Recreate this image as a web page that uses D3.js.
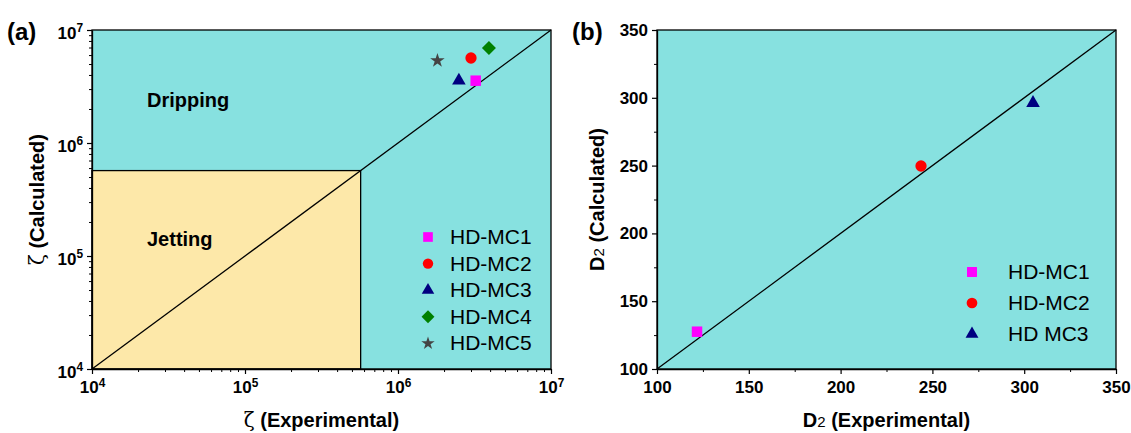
<!DOCTYPE html>
<html>
<head>
<meta charset="utf-8">
<script src="https://cdn.jsdelivr.net/npm/d3@7"></script>
<style>
  body { margin: 0; background: #fff; }
  svg text { font-family: 'Liberation Sans', Arial, sans-serif; }
</style>
</head>
<body>
<div id="graf"></div>
<script>
// panel (a) data
const namesA = ['HD-MC1', 'HD-MC2', 'HD-MC3', 'HD-MC4', 'HD-MC5']
const zetaExp = [3.22e6, 3.0e6, 2.5e6, 3.93e6, 1.81e6]
const zetaCalc = [3.56e6, 5.65e6, 3.56e6, 6.93e6, 5.35e6]
const logTicks = [1e4, 1e5, 1e6, 1e7]
const jetLimit = 5.7e5

// panel (b) data
const namesB = ['HD-MC1', 'HD-MC2', 'HD MC3']
const d2Exp = [121.8, 243.8, 304.8]
const d2Calc = [127.5, 249.7, 296.2]
const linTicks = [100, 150, 200, 250, 300, 350]

const colors = ['#ff00ff', '#ff0000', '#000080', '#008000', '#444444']
const shapes = [d3.symbolSquare, d3.symbolCircle, d3.symbolTriangle, d3.symbolDiamond2, d3.symbolStar]
const sizes = [110, 100, 80, 125, 65]

const bgTeal = '#87e1e0'
const bgJet = '#fde8a9'

const svg = d3.select('#graf').append('svg').attr('width', 1131).attr('height', 433)

const plotTop = 30, plotBottom = 369

// ---------- panel (a)
const xa = d3.scaleLog().domain([1e4, 1e7]).range([92, 551])
const ya = d3.scaleLog().domain([1e4, 1e7]).range([plotBottom, plotTop])

const ga = svg.append('g')
ga.append('rect').attr('x', xa(1e4)).attr('y', ya(1e7))
  .attr('width', xa(1e7) - xa(1e4)).attr('height', ya(1e4) - ya(1e7)).attr('fill', bgTeal)
ga.append('rect').attr('x', xa(1e4)).attr('y', ya(jetLimit))
  .attr('width', xa(jetLimit) - xa(1e4)).attr('height', ya(1e4) - ya(jetLimit))
  .attr('fill', bgJet).attr('stroke', '#000').attr('stroke-width', 1.3)
ga.append('line').attr('x1', xa(1e4)).attr('y1', ya(1e4)).attr('x2', xa(1e7)).attr('y2', ya(1e7))
  .attr('stroke', '#000').attr('stroke-width', 1.3)

const minors = []
logTicks.slice(0, -1).forEach((t) => { for (let k = 2; k < 10; k++) minors.push(t * k) })

function supLabels(sel) {
  sel.selectAll('.tick text').each(function (d) {
    const t = d3.select(this).text('')
    t.append('tspan').text('10')
    t.append('tspan').attr('dy', '-0.55em').attr('font-size', '0.7em').text(Math.round(Math.log10(d)))
  })
}

function styleAxis(sel) {
  sel.select('.domain').attr('stroke-width', 1.3)
  sel.selectAll('.tick line').attr('stroke-width', 1.2)
  sel.selectAll('.tick text').attr('font-size', 17).attr('font-weight', 'bold').attr('fill', '#000')
}

ga.append('g').attr('transform', `translate(0,${plotBottom})`)
  .call(d3.axisBottom(xa).tickValues(minors).tickSize(3).tickFormat(''))
  .call((g) => g.select('.domain').remove())
ga.append('g').attr('transform', `translate(${xa(1e4)},0)`)
  .call(d3.axisLeft(ya).tickValues(minors).tickSize(3).tickFormat(''))
  .call((g) => g.select('.domain').remove())
ga.append('g').attr('transform', `translate(0,${plotBottom})`)
  .call(d3.axisBottom(xa).tickValues(logTicks).tickSize(5).tickPadding(7).tickSizeOuter(0))
  .call(styleAxis).call(supLabels)
ga.append('g').attr('transform', `translate(${xa(1e4)},0)`)
  .call(d3.axisLeft(ya).tickValues(logTicks).tickSize(5).tickPadding(4).tickSizeOuter(0))
  .call(styleAxis).call(supLabels)
  .call((g) => g.selectAll('.tick text').attr('dy', '0.5em'))
ga.append('rect').attr('x', xa(1e4)).attr('y', ya(1e7))
  .attr('width', xa(1e7) - xa(1e4)).attr('height', ya(1e4) - ya(1e7))
  .attr('fill', 'none').attr('stroke', '#000').attr('stroke-width', 1.3)

ga.append('text').attr('x', 147).attr('y', 107).attr('font-size', 20).attr('font-weight', 'bold').text('Dripping')
ga.append('text').attr('x', 147).attr('y', 246).attr('font-size', 20).attr('font-weight', 'bold').text('Jetting')

ga.selectAll('path.pt').data(namesA).join('path').attr('class', 'pt')
  .attr('transform', (d, i) => `translate(${xa(zetaExp[i])},${ya(zetaCalc[i])})`)
  .attr('d', (d, i) => d3.symbol(shapes[i], sizes[i])())
  .attr('fill', (d, i) => colors[i])

const legA = ga.selectAll('g.leg').data(namesA).join('g').attr('class', 'leg')
  .attr('transform', (d, i) => `translate(428,${237 + i * 26.6})`)
legA.append('path').attr('d', (d, i) => d3.symbol(shapes[i], sizes[i] * 0.85)()).attr('fill', (d, i) => colors[i])
legA.append('text').attr('x', 22).attr('y', 7).attr('font-size', 21).text((d) => d)

function zetaLabel(sel, rest) {
  sel.append('tspan').attr('font-family', "'DejaVu Serif', serif").attr('font-weight', 'normal').text('ζ')
  sel.append('tspan').text(rest)
}
ga.append('text').attr('x', xa(Math.sqrt(1e4 * 1e7)))
  .attr('y', 427).attr('text-anchor', 'middle').attr('font-size', 20).attr('font-weight', 'bold')
  .call(zetaLabel, ' (Experimental)')
ga.append('text').attr('transform', `translate(44,${(plotTop + plotBottom) / 2}) rotate(-90)`)
  .attr('text-anchor', 'middle').attr('font-size', 20).attr('font-weight', 'bold')
  .call(zetaLabel, ' (Calculated)')
ga.append('text').attr('x', 7).attr('y', 40).attr('font-size', 24).attr('font-weight', 'bold').text('(a)')

// ---------- panel (b)
const xb = d3.scaleLinear().domain([100, 350]).range([657, 1116])
const yb = d3.scaleLinear().domain([100, 350]).range([plotBottom, plotTop])
const gb = svg.append('g')
gb.append('rect').attr('x', xb(100)).attr('y', yb(350))
  .attr('width', xb(350) - xb(100)).attr('height', yb(100) - yb(350)).attr('fill', bgTeal)
gb.append('line').attr('x1', xb(100)).attr('y1', yb(100)).attr('x2', xb(350)).attr('y2', yb(350))
  .attr('stroke', '#000').attr('stroke-width', 1.3)

const linMinor = linTicks.slice(0, -1).map((t) => t + 25)
gb.append('g').attr('transform', `translate(0,${plotBottom})`)
  .call(d3.axisBottom(xb).tickValues(linMinor).tickSize(3).tickFormat(''))
  .call((g) => g.select('.domain').remove())
gb.append('g').attr('transform', `translate(${xb(100)},0)`)
  .call(d3.axisLeft(yb).tickValues(linMinor).tickSize(3).tickFormat(''))
  .call((g) => g.select('.domain').remove())
gb.append('g').attr('transform', `translate(0,${plotBottom})`)
  .call(d3.axisBottom(xb).tickValues(linTicks).tickSize(5).tickPadding(7).tickSizeOuter(0))
  .call(styleAxis)
gb.append('g').attr('transform', `translate(${xb(100)},0)`)
  .call(d3.axisLeft(yb).tickValues(linTicks).tickSize(5).tickPadding(4).tickSizeOuter(0))
  .call(styleAxis)
gb.append('rect').attr('x', xb(100)).attr('y', yb(350))
  .attr('width', xb(350) - xb(100)).attr('height', yb(100) - yb(350))
  .attr('fill', 'none').attr('stroke', '#000').attr('stroke-width', 1.3)

gb.selectAll('path.pt').data(namesB).join('path').attr('class', 'pt')
  .attr('transform', (d, i) => `translate(${xb(d2Exp[i])},${yb(d2Calc[i])})`)
  .attr('d', (d, i) => d3.symbol(shapes[i], sizes[i])())
  .attr('fill', (d, i) => colors[i])

const legB = gb.selectAll('g.leg').data(namesB).join('g').attr('class', 'leg')
  .attr('transform', (d, i) => `translate(972,${272 + i * 31})`)
legB.append('path').attr('d', (d, i) => d3.symbol(shapes[i], sizes[i] * 0.9)()).attr('fill', (d, i) => colors[i])
legB.append('text').attr('x', 36).attr('y', 7).attr('font-size', 21).text((d) => d)

function d2Label(sel, rest) {
  sel.append('tspan').text('D')
  sel.append('tspan').attr('font-size', '0.75em').attr('font-weight', 'normal').text('2')
  sel.append('tspan').text(rest)
}
gb.append('text').attr('x', xb(225)).attr('y', 427).attr('text-anchor', 'middle')
  .attr('font-size', 20).attr('font-weight', 'bold').call(d2Label, ' (Experimental)')
gb.append('text').attr('transform', `translate(604,${(plotTop + plotBottom) / 2}) rotate(-90)`)
  .attr('text-anchor', 'middle').attr('font-size', 20).attr('font-weight', 'bold').call(d2Label, ' (Calculated)')
gb.append('text').attr('x', 572).attr('y', 40).attr('font-size', 24).attr('font-weight', 'bold').text('(b)')
</script>
</body>
</html>
